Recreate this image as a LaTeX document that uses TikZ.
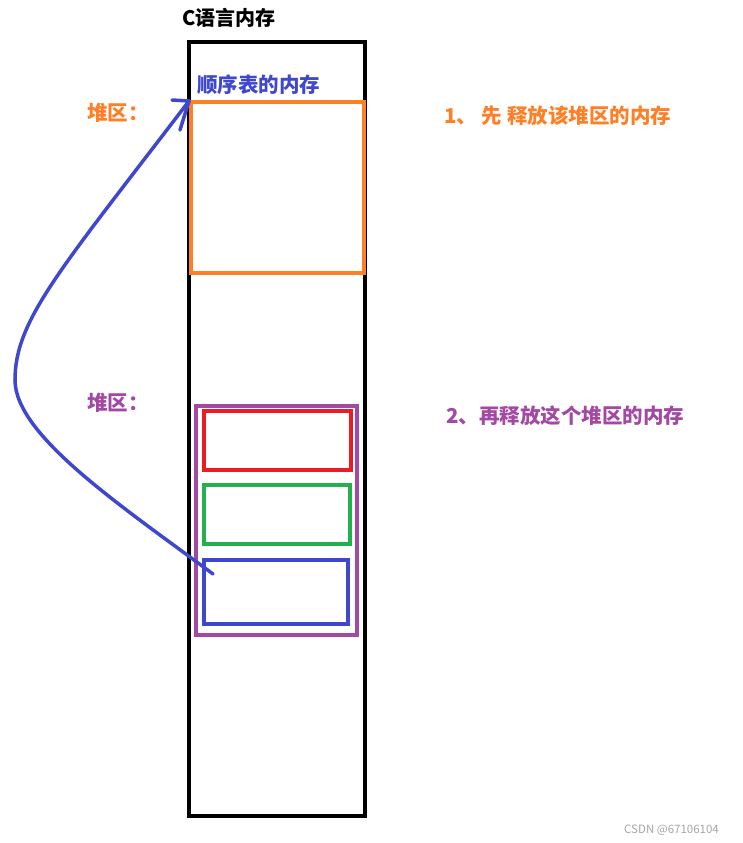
\documentclass[tikz,border=0pt]{standalone}
\usepackage{fontspec}
\newfontfamily\cjk{Noto Sans CJK SC}
\definecolor{porange}{HTML}{FF7F27}
\definecolor{ppurple}{HTML}{A349A4}
\definecolor{pred}{HTML}{ED1C24}
\definecolor{pgreen}{HTML}{22B14C}
\definecolor{pblue}{HTML}{3F48CC}
\tikzset{
  box/.style={line width=4.5pt},
  lbl/.style={font=\cjk\bfseries\fontsize{20.5}{24}\selectfont, inner sep=0pt, anchor=west},
}
\begin{document}
\begin{tikzpicture}[x=1pt,y=-1pt]
\useasboundingbox (0,0) rectangle (743,843);
% memory column
\draw[line width=3.2pt] (189,42) rectangle (365,816);
\node[font=\cjk\bfseries\fontsize{20}{24}\selectfont, inner sep=0pt, anchor=west] (title) at (182,18) {C语言内存};
% orange heap
\draw[box, porange] (191,102) rectangle (364,273);
\coordinate (tip) at (189,101);
\node[lbl, pblue] (seq) at (197,85) {顺序表的内存};
\node[lbl, porange] (heap1) at (87,113) {堆区：};
\node[lbl, porange] (step1) at (444,116) {1、 先 释放该堆区的内存};
% purple heap
\draw[box, ppurple] (196,406) rectangle (357,635);
\draw[box, pred] (204,411) rectangle (351,470);
\draw[box, pgreen] (204,485) rectangle (350,544);
\draw[box, pblue] (204,560) rectangle (348,624);
\node[lbl, ppurple] (heap2) at (87,403) {堆区：};
\node[lbl, ppurple] (step2) at (446,416) {2、再释放这个堆区的内存};
% arrow
\coordinate (start) at (213,574);
\coordinate (bend) at (15,380);
\draw[pblue, line width=3.5pt, line cap=round]
  (start) .. controls (120,505) and (15,435) .. (bend)
  .. controls (15,320) and (60,270) .. (tip);
\draw[pblue, line width=3.5pt, line cap=round] (tip) -- (172,100);
\draw[pblue, line width=3.5pt, line cap=round] (tip) -- (180,130);
% watermark
\node[font=\cjk\fontsize{11.5}{13}\selectfont, text=black!35, inner sep=0pt, anchor=west] (wm) at (624,830) {CSDN @67106104};
\end{tikzpicture}
\end{document}
